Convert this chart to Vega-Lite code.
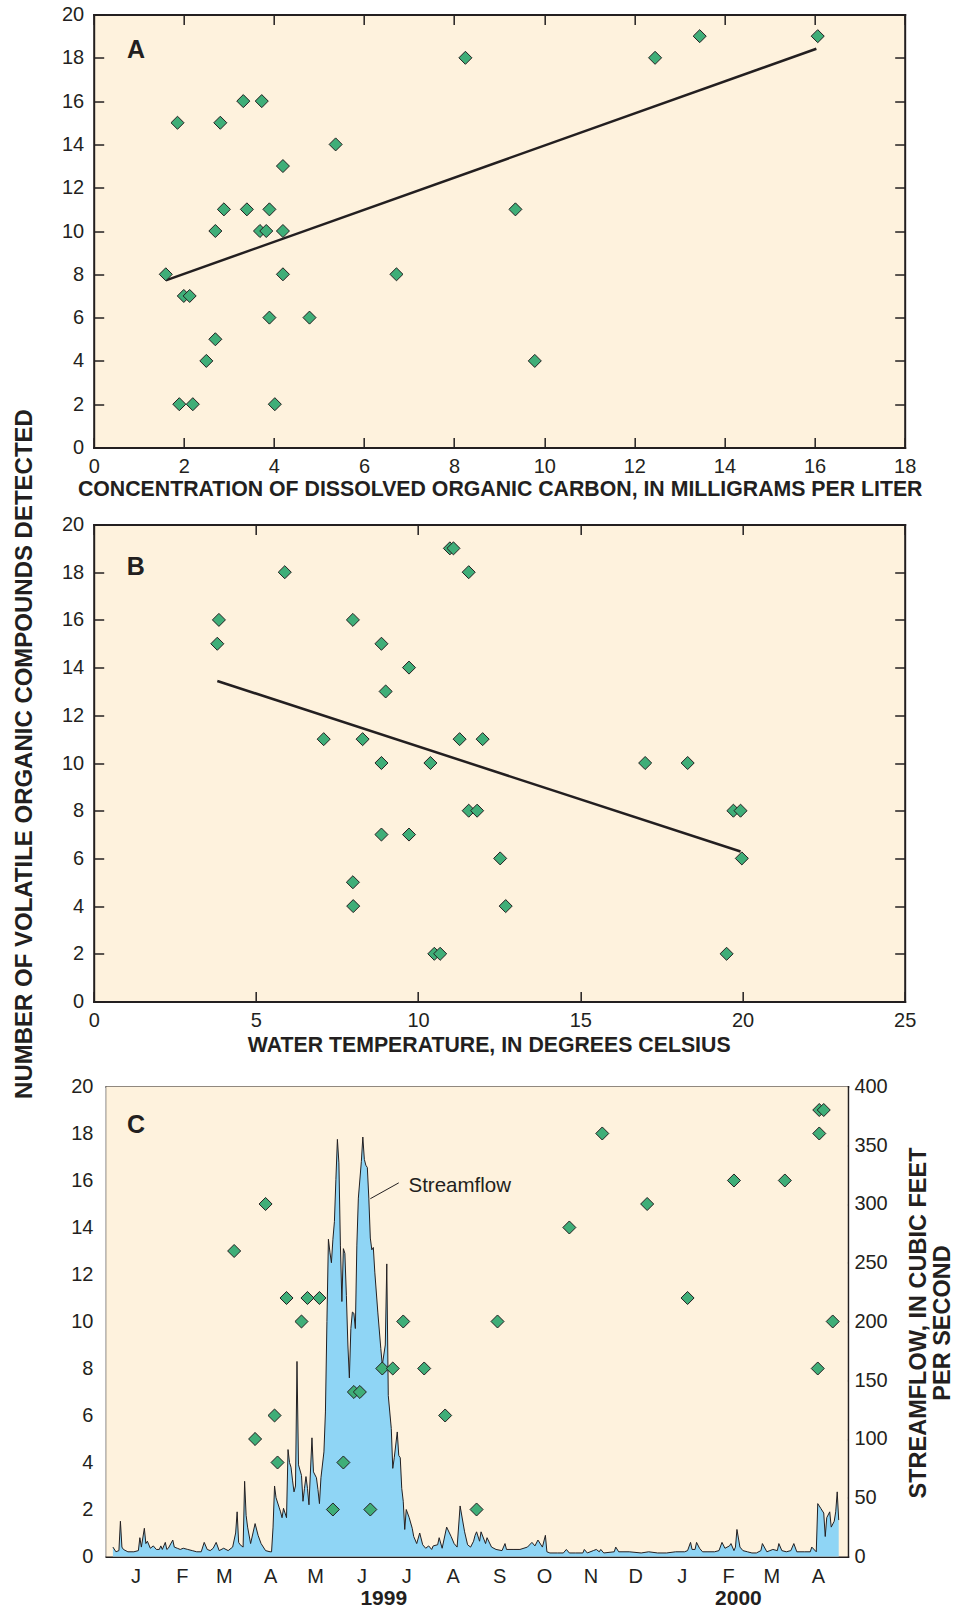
{
  "$schema": "https://vega.github.io/schema/vega-lite/v6.json",
  "padding": {"left": 12.7, "top": 4.5, "right": 4, "bottom": 2},
  "background": "white",
  "config": {
    "font": "Liberation Sans",
    "view": {"stroke": null},
    "axis": {
      "grid": false,
      "domainColor": "#231f20",
      "domainWidth": 2,
      "domainCap": "square",
      "tickColor": "#231f20",
      "tickWidth": 1.5,
      "labelColor": "#231f20",
      "labelFont": "Liberation Sans",
      "labelFontSize": 20,
      "titleFont": "Liberation Sans",
      "titleColor": "#231f20",
      "titleFontWeight": "bold",
      "titleFontSize": 21.3,
      "labelFlush": false,
      "labelOverlap": false,
      "zindex": 1
    }
  },
  "title": {
    "text": "NUMBER OF VOLATILE ORGANIC COMPOUNDS DETECTED",
    "orient": "left",
    "anchor": "middle",
    "font": "Liberation Sans",
    "fontSize": 24,
    "fontWeight": "bold",
    "color": "#231f20",
    "offset": 24,
    "dx": 53
  },
  "spacing": 0,
  "vconcat": [
    {
      "width": 811,
      "height": 433,
      "view": {"fill": "#fef2dd", "stroke": null},
      "layer": [
        {
          "data": {"values": [{"doc": 1.6, "n": 7.72}, {"doc": 16.04, "n": 18.42}]},
          "mark": {"type": "line", "color": "#231f20", "strokeWidth": 2.5},
          "encoding": {
            "x": {"field": "doc", "type": "quantitative", "scale": {"domain": [0, 18], "nice": false, "zero": false},
                  "axis": {"orient": "top", "values": [0, 2, 4, 6, 8, 10, 12, 14, 16, 18], "labels": false, "title": null, "tickSize": -10, "minExtent": 0}},
            "y": {"field": "n", "type": "quantitative", "scale": {"domain": [0, 20], "nice": false, "zero": false},
                  "axis": {"orient": "right", "values": [0, 2, 4, 6, 8, 10, 12, 14, 16, 18, 20], "labels": false, "title": null, "tickSize": -10}}
          }
        },
        {
          "layer": [
            {
              "data": {"values": [
                {"doc": 1.6, "n": 8}, {"doc": 1.86, "n": 15}, {"doc": 1.9, "n": 2}, {"doc": 2.0, "n": 7},
                {"doc": 2.13, "n": 7}, {"doc": 2.2, "n": 2}, {"doc": 2.5, "n": 4}, {"doc": 2.7, "n": 5},
                {"doc": 2.7, "n": 10}, {"doc": 2.81, "n": 15}, {"doc": 2.89, "n": 11}, {"doc": 3.32, "n": 16},
                {"doc": 3.4, "n": 11}, {"doc": 3.69, "n": 10}, {"doc": 3.73, "n": 16}, {"doc": 3.83, "n": 10},
                {"doc": 3.9, "n": 11}, {"doc": 3.9, "n": 6}, {"doc": 4.02, "n": 2}, {"doc": 4.2, "n": 13},
                {"doc": 4.2, "n": 10}, {"doc": 4.2, "n": 8}, {"doc": 4.79, "n": 6}, {"doc": 5.37, "n": 14},
                {"doc": 6.72, "n": 8}, {"doc": 8.25, "n": 18}, {"doc": 9.36, "n": 11}, {"doc": 9.79, "n": 4},
                {"doc": 12.46, "n": 18}, {"doc": 13.45, "n": 19}, {"doc": 16.07, "n": 19}
              ]},
              "mark": {"type": "point", "shape": "diamond", "filled": true, "fill": "#3fae78", "stroke": "#231f20", "strokeWidth": 1, "size": 170, "opacity": 1},
              "encoding": {
                "x": {"field": "doc", "type": "quantitative", "scale": {"domain": [0, 18], "nice": false, "zero": false},
                      "axis": {"orient": "bottom", "values": [0, 2, 4, 6, 8, 10, 12, 14, 16, 18], "tickSize": -10, "labelPadding": 19,
                               "title": "CONCENTRATION OF DISSOLVED ORGANIC CARBON, IN MILLIGRAMS PER LITER",
                               "titleX": 406, "titleY": 48, "titleBaseline": "alphabetic", "titleAlign": "center", "minExtent": 62}},
                "y": {"field": "n", "type": "quantitative", "scale": {"domain": [0, 20], "nice": false, "zero": false},
                      "axis": {"orient": "left", "values": [0, 2, 4, 6, 8, 10, 12, 14, 16, 18, 20], "tickSize": -10, "labelPadding": 20, "title": null}}
              }
            },
            {
              "data": {"values": [{}]},
              "mark": {"type": "text", "text": "A", "fontSize": 25, "fontWeight": "bold", "color": "#231f20", "align": "center", "baseline": "middle"},
              "encoding": {
                "x": {"datum": 0.94, "type": "quantitative"},
                "y": {"datum": 18.34, "type": "quantitative"}
              }
            }
          ]
        }
      ],
      "resolve": {"scale": {"x": "independent", "y": "independent"}}
    },
    {
      "width": 811,
      "height": 477,
      "view": {"fill": "#fef2dd", "stroke": null},
      "layer": [
        {
          "data": {"values": [{"temp": 3.81, "n": 13.44}, {"temp": 19.94, "n": 6.29}]},
          "mark": {"type": "line", "color": "#231f20", "strokeWidth": 2.5},
          "encoding": {
            "x": {"field": "temp", "type": "quantitative", "scale": {"domain": [0, 25], "nice": false, "zero": false},
                  "axis": {"orient": "top", "values": [0, 5, 10, 15, 20, 25], "labels": false, "title": null, "tickSize": -10, "minExtent": 15}},
            "y": {"field": "n", "type": "quantitative", "scale": {"domain": [0, 20], "nice": false, "zero": false},
                  "axis": {"orient": "right", "values": [0, 2, 4, 6, 8, 10, 12, 14, 16, 18, 20], "labels": false, "title": null, "tickSize": -10}}
          }
        },
        {
          "layer": [
            {
              "data": {"values": [
                {"temp": 3.81, "n": 15}, {"temp": 3.86, "n": 16}, {"temp": 5.89, "n": 18}, {"temp": 7.09, "n": 11},
                {"temp": 7.99, "n": 16}, {"temp": 7.99, "n": 5}, {"temp": 8.0, "n": 4}, {"temp": 8.29, "n": 11},
                {"temp": 8.87, "n": 15}, {"temp": 8.87, "n": 10}, {"temp": 8.87, "n": 7}, {"temp": 9.0, "n": 13},
                {"temp": 9.72, "n": 14}, {"temp": 9.72, "n": 7}, {"temp": 10.38, "n": 10}, {"temp": 10.5, "n": 2},
                {"temp": 10.68, "n": 2}, {"temp": 10.98, "n": 19}, {"temp": 11.09, "n": 19}, {"temp": 11.28, "n": 11},
                {"temp": 11.56, "n": 18}, {"temp": 11.56, "n": 8}, {"temp": 11.82, "n": 8}, {"temp": 11.99, "n": 11},
                {"temp": 12.53, "n": 6}, {"temp": 12.7, "n": 4}, {"temp": 17.0, "n": 10}, {"temp": 18.31, "n": 10},
                {"temp": 19.51, "n": 2}, {"temp": 19.72, "n": 8}, {"temp": 19.94, "n": 8}, {"temp": 19.98, "n": 6}
              ]},
              "mark": {"type": "point", "shape": "diamond", "filled": true, "fill": "#3fae78", "stroke": "#231f20", "strokeWidth": 1, "size": 170, "opacity": 1},
              "encoding": {
                "x": {"field": "temp", "type": "quantitative", "scale": {"domain": [0, 25], "nice": false, "zero": false},
                      "axis": {"orient": "bottom", "values": [0, 5, 10, 15, 20, 25], "tickSize": -10, "labelPadding": 19,
                               "title": "WATER TEMPERATURE, IN DEGREES CELSIUS",
                               "titleX": 395, "titleY": 50, "titleBaseline": "alphabetic", "titleAlign": "center", "minExtent": 70}},
                "y": {"field": "n", "type": "quantitative", "scale": {"domain": [0, 20], "nice": false, "zero": false},
                      "axis": {"orient": "left", "values": [0, 2, 4, 6, 8, 10, 12, 14, 16, 18, 20], "tickSize": -10, "labelPadding": 20, "title": null}}
              }
            },
            {
              "data": {"values": [{}]},
              "mark": {"type": "text", "text": "B", "fontSize": 25, "fontWeight": "bold", "color": "#231f20", "align": "center", "baseline": "middle"},
              "encoding": {
                "x": {"datum": 1.3, "type": "quantitative"},
                "y": {"datum": 18.2, "type": "quantitative"}
              }
            }
          ]
        }
      ],
      "resolve": {"scale": {"x": "independent", "y": "independent"}}
    },
    {
      "width": 754,
      "height": 470,
      "view": {"fill": null, "stroke": null},
      "layer": [
        {
          "data": {"values": [{}]},
          "mark": {"type": "rect", "fill": "#fef2dd", "stroke": null},
          "encoding": {
            "x": {"datum": {"year": 1998, "month": 12, "date": 27, "hours": 12, "utc": true}, "type": "temporal",
                  "scale": {"type": "utc", "domain": [{"year": 1998, "month": 12, "date": 27, "hours": 12, "utc": true}, {"year": 2000, "month": 5, "date": 6, "utc": true}], "range": [12.5, 754]},
                  "axis": {"orient": "bottom", "tickCount": {"interval": "month", "step": 1}, "tickSize": -8, "labelPadding": 18.5,
                           "labelOffset": 22.5, "labelAlign": "center", "title": null,
                           "labelExpr": "utcyear(datum.value) == 2000 && utcmonth(datum.value) == 4 ? '' : substring(utcFormat(datum.value, '%b'), 0, 1)"}},
            "x2": {"datum": {"year": 2000, "month": 5, "date": 6, "utc": true}},
            "y": {"datum": 0, "type": "quantitative", "scale": {"domain": [0, 20], "nice": false, "zero": false},
                  "axis": {"orient": "left", "offset": -12.5, "values": [0, 2, 4, 6, 8, 10, 12, 14, 16, 18, 20], "tickSize": -10, "labelPadding": 23.3, "title": null}},
            "y2": {"datum": 20}
          }
        },
        {
          "layer": [
            {
              "data": {"name": "flow", "values": [
                {"date": "1999-01-01", "cfs": 8}, {"date": "1999-01-03", "cfs": 4}, {"date": "1999-01-05", "cfs": 5}, {"date": "1999-01-06", "cfs": 30},
                {"date": "1999-01-07", "cfs": 8}, {"date": "1999-01-08", "cfs": 6}, {"date": "1999-01-11", "cfs": 4}, {"date": "1999-01-15", "cfs": 4},
                {"date": "1999-01-18", "cfs": 5}, {"date": "1999-01-19", "cfs": 16}, {"date": "1999-01-20", "cfs": 8}, {"date": "1999-01-22", "cfs": 24},
                {"date": "1999-01-23", "cfs": 11}, {"date": "1999-01-24", "cfs": 13}, {"date": "1999-01-26", "cfs": 7}, {"date": "1999-01-28", "cfs": 9},
                {"date": "1999-01-30", "cfs": 6}, {"date": "1999-02-01", "cfs": 6}, {"date": "1999-02-02", "cfs": 9}, {"date": "1999-02-03", "cfs": 6},
                {"date": "1999-02-05", "cfs": 12}, {"date": "1999-02-06", "cfs": 6}, {"date": "1999-02-07", "cfs": 7}, {"date": "1999-02-10", "cfs": 14},
                {"date": "1999-02-11", "cfs": 8}, {"date": "1999-02-13", "cfs": 7}, {"date": "1999-02-15", "cfs": 6}, {"date": "1999-02-17", "cfs": 7},
                {"date": "1999-02-20", "cfs": 6}, {"date": "1999-02-23", "cfs": 5}, {"date": "1999-02-26", "cfs": 4}, {"date": "1999-03-01", "cfs": 4},
                {"date": "1999-03-03", "cfs": 12}, {"date": "1999-03-05", "cfs": 6}, {"date": "1999-03-07", "cfs": 5}, {"date": "1999-03-09", "cfs": 7},
                {"date": "1999-03-11", "cfs": 12}, {"date": "1999-03-13", "cfs": 5}, {"date": "1999-03-16", "cfs": 7}, {"date": "1999-03-19", "cfs": 5},
                {"date": "1999-03-22", "cfs": 8}, {"date": "1999-03-24", "cfs": 20}, {"date": "1999-03-25", "cfs": 38}, {"date": "1999-03-26", "cfs": 12},
                {"date": "1999-03-27", "cfs": 10}, {"date": "1999-03-29", "cfs": 8}, {"date": "1999-03-30", "cfs": 64}, {"date": "1999-03-31", "cfs": 35},
                {"date": "1999-04-01", "cfs": 25}, {"date": "1999-04-03", "cfs": 11}, {"date": "1999-04-06", "cfs": 28}, {"date": "1999-04-08", "cfs": 18},
                {"date": "1999-04-10", "cfs": 11}, {"date": "1999-04-13", "cfs": 5}, {"date": "1999-04-16", "cfs": 4}, {"date": "1999-04-17", "cfs": 4},
                {"date": "1999-04-18", "cfs": 25}, {"date": "1999-04-19", "cfs": 60}, {"date": "1999-04-20", "cfs": 50}, {"date": "1999-04-22", "cfs": 42},
                {"date": "1999-04-23", "cfs": 38}, {"date": "1999-04-24", "cfs": 33}, {"date": "1999-04-25", "cfs": 41}, {"date": "1999-04-27", "cfs": 33},
                {"date": "1999-04-28", "cfs": 91}, {"date": "1999-04-29", "cfs": 80}, {"date": "1999-04-30", "cfs": 76}, {"date": "1999-05-01", "cfs": 65},
                {"date": "1999-05-02", "cfs": 55}, {"date": "1999-05-03", "cfs": 60}, {"date": "1999-05-04", "cfs": 166}, {"date": "1999-05-05", "cfs": 78},
                {"date": "1999-05-07", "cfs": 69}, {"date": "1999-05-08", "cfs": 47}, {"date": "1999-05-09", "cfs": 58}, {"date": "1999-05-10", "cfs": 68},
                {"date": "1999-05-11", "cfs": 58}, {"date": "1999-05-12", "cfs": 44}, {"date": "1999-05-14", "cfs": 101}, {"date": "1999-05-15", "cfs": 72},
                {"date": "1999-05-17", "cfs": 67}, {"date": "1999-05-18", "cfs": 57}, {"date": "1999-05-19", "cfs": 45}, {"date": "1999-05-20", "cfs": 67},
                {"date": "1999-05-22", "cfs": 89}, {"date": "1999-05-23", "cfs": 123}, {"date": "1999-05-24", "cfs": 200}, {"date": "1999-05-25", "cfs": 270},
                {"date": "1999-05-26", "cfs": 259}, {"date": "1999-05-27", "cfs": 250}, {"date": "1999-05-28", "cfs": 270}, {"date": "1999-05-29", "cfs": 285},
                {"date": "1999-05-30", "cfs": 321}, {"date": "1999-05-31", "cfs": 355}, {"date": "1999-06-01", "cfs": 335}, {"date": "1999-06-02", "cfs": 265},
                {"date": "1999-06-03", "cfs": 217}, {"date": "1999-06-04", "cfs": 262}, {"date": "1999-06-05", "cfs": 258}, {"date": "1999-06-06", "cfs": 222},
                {"date": "1999-06-07", "cfs": 180}, {"date": "1999-06-08", "cfs": 152}, {"date": "1999-06-09", "cfs": 194}, {"date": "1999-06-10", "cfs": 208},
                {"date": "1999-06-11", "cfs": 207}, {"date": "1999-06-12", "cfs": 194}, {"date": "1999-06-13", "cfs": 265}, {"date": "1999-06-14", "cfs": 305},
                {"date": "1999-06-16", "cfs": 336}, {"date": "1999-06-17", "cfs": 357}, {"date": "1999-06-18", "cfs": 338}, {"date": "1999-06-19", "cfs": 333},
                {"date": "1999-06-20", "cfs": 331}, {"date": "1999-06-21", "cfs": 305}, {"date": "1999-06-22", "cfs": 271}, {"date": "1999-06-23", "cfs": 261},
                {"date": "1999-06-24", "cfs": 263}, {"date": "1999-06-25", "cfs": 242}, {"date": "1999-06-27", "cfs": 208}, {"date": "1999-06-29", "cfs": 177},
                {"date": "1999-06-30", "cfs": 163}, {"date": "1999-07-02", "cfs": 180}, {"date": "1999-07-03", "cfs": 249}, {"date": "1999-07-04", "cfs": 137},
                {"date": "1999-07-06", "cfs": 109}, {"date": "1999-07-07", "cfs": 75}, {"date": "1999-07-08", "cfs": 84}, {"date": "1999-07-10", "cfs": 106},
                {"date": "1999-07-11", "cfs": 86}, {"date": "1999-07-12", "cfs": 84}, {"date": "1999-07-13", "cfs": 58}, {"date": "1999-07-14", "cfs": 47},
                {"date": "1999-07-15", "cfs": 23}, {"date": "1999-07-16", "cfs": 40}, {"date": "1999-07-18", "cfs": 33}, {"date": "1999-07-20", "cfs": 24},
                {"date": "1999-07-21", "cfs": 17}, {"date": "1999-07-23", "cfs": 11}, {"date": "1999-07-25", "cfs": 20}, {"date": "1999-07-27", "cfs": 10},
                {"date": "1999-07-29", "cfs": 7}, {"date": "1999-07-31", "cfs": 9}, {"date": "1999-08-02", "cfs": 6}, {"date": "1999-08-03", "cfs": 9},
                {"date": "1999-08-06", "cfs": 10}, {"date": "1999-08-07", "cfs": 16}, {"date": "1999-08-09", "cfs": 7}, {"date": "1999-08-12", "cfs": 25},
                {"date": "1999-08-15", "cfs": 17}, {"date": "1999-08-17", "cfs": 11}, {"date": "1999-08-19", "cfs": 8}, {"date": "1999-08-21", "cfs": 43},
                {"date": "1999-08-24", "cfs": 21}, {"date": "1999-08-26", "cfs": 10}, {"date": "1999-08-28", "cfs": 8}, {"date": "1999-08-30", "cfs": 13},
                {"date": "1999-08-31", "cfs": 18}, {"date": "1999-09-01", "cfs": 21}, {"date": "1999-09-03", "cfs": 13}, {"date": "1999-09-04", "cfs": 21},
                {"date": "1999-09-07", "cfs": 11}, {"date": "1999-09-08", "cfs": 16}, {"date": "1999-09-11", "cfs": 8}, {"date": "1999-09-14", "cfs": 6},
                {"date": "1999-09-18", "cfs": 5}, {"date": "1999-09-20", "cfs": 11}, {"date": "1999-09-21", "cfs": 6}, {"date": "1999-09-26", "cfs": 6},
                {"date": "1999-09-30", "cfs": 6}, {"date": "1999-10-05", "cfs": 8}, {"date": "1999-10-08", "cfs": 12}, {"date": "1999-10-10", "cfs": 9},
                {"date": "1999-10-12", "cfs": 14}, {"date": "1999-10-15", "cfs": 8}, {"date": "1999-10-17", "cfs": 18}, {"date": "1999-10-18", "cfs": 4},
                {"date": "1999-10-20", "cfs": 3}, {"date": "1999-10-25", "cfs": 3}, {"date": "1999-10-29", "cfs": 3}, {"date": "1999-10-31", "cfs": 6},
                {"date": "1999-11-02", "cfs": 3}, {"date": "1999-11-06", "cfs": 3}, {"date": "1999-11-11", "cfs": 3}, {"date": "1999-11-12", "cfs": 6},
                {"date": "1999-11-14", "cfs": 3}, {"date": "1999-11-18", "cfs": 5}, {"date": "1999-11-20", "cfs": 6}, {"date": "1999-11-22", "cfs": 4},
                {"date": "1999-11-23", "cfs": 6}, {"date": "1999-11-25", "cfs": 3}, {"date": "1999-12-02", "cfs": 4}, {"date": "1999-12-03", "cfs": 8},
                {"date": "1999-12-05", "cfs": 4}, {"date": "1999-12-12", "cfs": 4}, {"date": "1999-12-20", "cfs": 3}, {"date": "1999-12-25", "cfs": 4},
                {"date": "1999-12-31", "cfs": 3}, {"date": "2000-01-06", "cfs": 3}, {"date": "2000-01-12", "cfs": 4}, {"date": "2000-01-18", "cfs": 4},
                {"date": "2000-01-20", "cfs": 5}, {"date": "2000-01-22", "cfs": 12}, {"date": "2000-01-23", "cfs": 6}, {"date": "2000-01-25", "cfs": 6},
                {"date": "2000-01-26", "cfs": 12}, {"date": "2000-01-28", "cfs": 7}, {"date": "2000-01-30", "cfs": 4}, {"date": "2000-02-02", "cfs": 4},
                {"date": "2000-02-07", "cfs": 4}, {"date": "2000-02-10", "cfs": 5}, {"date": "2000-02-12", "cfs": 12}, {"date": "2000-02-14", "cfs": 7},
                {"date": "2000-02-17", "cfs": 9}, {"date": "2000-02-18", "cfs": 11}, {"date": "2000-02-20", "cfs": 5}, {"date": "2000-02-21", "cfs": 8},
                {"date": "2000-02-22", "cfs": 23}, {"date": "2000-02-24", "cfs": 8}, {"date": "2000-02-26", "cfs": 5}, {"date": "2000-02-29", "cfs": 4},
                {"date": "2000-03-03", "cfs": 3}, {"date": "2000-03-06", "cfs": 3}, {"date": "2000-03-09", "cfs": 5}, {"date": "2000-03-10", "cfs": 11},
                {"date": "2000-03-13", "cfs": 4}, {"date": "2000-03-15", "cfs": 5}, {"date": "2000-03-17", "cfs": 6}, {"date": "2000-03-20", "cfs": 5},
                {"date": "2000-03-21", "cfs": 11}, {"date": "2000-03-23", "cfs": 5}, {"date": "2000-03-26", "cfs": 4}, {"date": "2000-03-29", "cfs": 5},
                {"date": "2000-03-31", "cfs": 11}, {"date": "2000-04-02", "cfs": 4}, {"date": "2000-04-07", "cfs": 4}, {"date": "2000-04-11", "cfs": 4},
                {"date": "2000-04-12", "cfs": 8}, {"date": "2000-04-15", "cfs": 4}, {"date": "2000-04-16", "cfs": 45}, {"date": "2000-04-18", "cfs": 41},
                {"date": "2000-04-20", "cfs": 37}, {"date": "2000-04-21", "cfs": 17}, {"date": "2000-04-22", "cfs": 33}, {"date": "2000-04-24", "cfs": 38},
                {"date": "2000-04-25", "cfs": 25}, {"date": "2000-04-27", "cfs": 30}, {"date": "2000-04-28", "cfs": 38}, {"date": "2000-04-29", "cfs": 55},
                {"date": "2000-04-30", "cfs": 31}
              ]},
              "layer": [
                {
                  "mark": {"type": "area", "fill": "#8fd5f5", "stroke": null, "opacity": 1},
                  "encoding": {
                    "x": {"field": "date", "type": "temporal"},
                    "y": {"field": "cfs", "type": "quantitative"}
                  }
                },
                {
                  "mark": {"type": "line", "color": "#231f20", "strokeWidth": 1},
                  "encoding": {
                    "x": {"field": "date", "type": "temporal"},
                    "y": {"field": "cfs", "type": "quantitative"}
                  }
                }
              ],
              "encoding": {
                "x": {"field": "date", "type": "temporal",
                      "scale": {"type": "utc", "domain": [{"year": 1998, "month": 12, "date": 27, "hours": 12, "utc": true}, {"year": 2000, "month": 5, "date": 6, "utc": true}], "range": [12.5, 754]},
                      "axis": {"orient": "top", "tickCount": {"interval": "month", "step": 1}, "labels": false, "title": null, "tickSize": -8, "minExtent": 15}},
                "y": {"field": "cfs", "type": "quantitative", "scale": {"domain": [0, 400], "nice": false, "zero": true},
                      "axis": {"orient": "right", "values": [0, 50, 100, 150, 200, 250, 300, 350, 400], "tickSize": -11, "labelPadding": 17.2,
                               "title": ["STREAMFLOW, IN CUBIC FEET", "PER SECOND"], "titleAngle": 270, "titleBaseline": "top", "titleAlign": "center",
                               "titleX": 59, "titleY": 236, "titleFontSize": 23.5, "titleLineHeight": 24}}
              }
            },
            {
              "data": {"values": [{}]},
              "mark": {"type": "rule", "color": "#231f20", "strokeWidth": 1},
              "encoding": {
                "x": {"datum": {"year": 1999, "month": 6, "date": 22, "utc": true}, "type": "temporal"},
                "x2": {"datum": {"year": 1999, "month": 7, "date": 11, "utc": true}},
                "y": {"datum": 304.5, "type": "quantitative"},
                "y2": {"datum": 318}
              }
            },
            {
              "data": {"values": [{}]},
              "mark": {"type": "text", "text": "Streamflow", "fontSize": 20.5, "color": "#231f20", "align": "left", "baseline": "middle"},
              "encoding": {
                "x": {"datum": {"year": 1999, "month": 7, "date": 17, "hours": 12, "utc": true}, "type": "temporal"},
                "y": {"datum": 315, "type": "quantitative"}
              }
            }
          ]
        },
        {
          "layer": [
            {
              "data": {"values": [
                {"date": "1999-03-23", "n": 13}, {"date": "1999-04-13", "n": 15}, {"date": "1999-04-06", "n": 5}, {"date": "1999-04-19", "n": 6},
                {"date": "1999-04-21", "n": 4}, {"date": "1999-04-27", "n": 11}, {"date": "1999-05-07", "n": 10}, {"date": "1999-05-11", "n": 11},
                {"date": "1999-05-19", "n": 11}, {"date": "1999-05-28", "n": 2}, {"date": "1999-06-04", "n": 4}, {"date": "1999-06-11", "n": 7},
                {"date": "1999-06-15", "n": 7}, {"date": "1999-06-22", "n": 2}, {"date": "1999-06-30", "n": 8}, {"date": "1999-07-07", "n": 8},
                {"date": "1999-07-14", "n": 10}, {"date": "1999-07-28", "n": 8}, {"date": "1999-08-11", "n": 6}, {"date": "1999-09-01", "n": 2},
                {"date": "1999-09-15", "n": 10}, {"date": "1999-11-02", "n": 14}, {"date": "1999-11-24", "n": 18}, {"date": "1999-12-24", "n": 15},
                {"date": "2000-01-20", "n": 11}, {"date": "2000-02-20", "n": 16}, {"date": "2000-03-25", "n": 16}, {"date": "2000-04-16", "n": 8},
                {"date": "2000-04-17", "n": 18}, {"date": "2000-04-17", "n": 19}, {"date": "2000-04-20", "n": 19}, {"date": "2000-04-26", "n": 10}
              ]},
              "mark": {"type": "point", "shape": "diamond", "filled": true, "fill": "#3fae78", "stroke": "#231f20", "strokeWidth": 1, "size": 170, "opacity": 1},
              "encoding": {
                "x": {"field": "date", "type": "temporal",
                      "scale": {"type": "utc", "domain": [{"year": 1998, "month": 12, "date": 27, "hours": 12, "utc": true}, {"year": 2000, "month": 5, "date": 6, "utc": true}], "range": [12.5, 754]},
                      "axis": null},
                "y": {"field": "n", "type": "quantitative", "scale": {"domain": [0, 20], "nice": false, "zero": false}, "axis": null}
              }
            },
            {
              "data": {"values": [{}]},
              "mark": {"type": "text", "text": "C", "fontSize": 25, "fontWeight": "bold", "color": "#231f20", "align": "center", "baseline": "middle"},
              "encoding": {
                "x": {"datum": {"year": 1999, "month": 1, "date": 16, "hours": 10, "utc": true}, "type": "temporal", "axis": null},
                "y": {"datum": 18.35, "type": "quantitative", "axis": null}
              }
            },
            {
              "data": {"values": [{}]},
              "mark": {"type": "text", "text": "1999", "fontSize": 21, "fontWeight": "bold", "color": "#231f20", "align": "center", "baseline": "middle"},
              "encoding": {
                "x": {"datum": {"year": 1999, "month": 7, "date": 1, "utc": true}, "type": "temporal", "axis": null},
                "y": {"datum": -1.83, "type": "quantitative", "axis": null}
              }
            },
            {
              "data": {"values": [{}]},
              "mark": {"type": "text", "text": "2000", "fontSize": 21, "fontWeight": "bold", "color": "#231f20", "align": "center", "baseline": "middle"},
              "encoding": {
                "x": {"datum": {"year": 2000, "month": 2, "date": 23, "utc": true}, "type": "temporal", "axis": null},
                "y": {"datum": -1.83, "type": "quantitative", "axis": null}
              }
            }
          ]
        }
      ],
      "resolve": {"scale": {"x": "independent", "y": "independent"}}
    }
  ]
}
